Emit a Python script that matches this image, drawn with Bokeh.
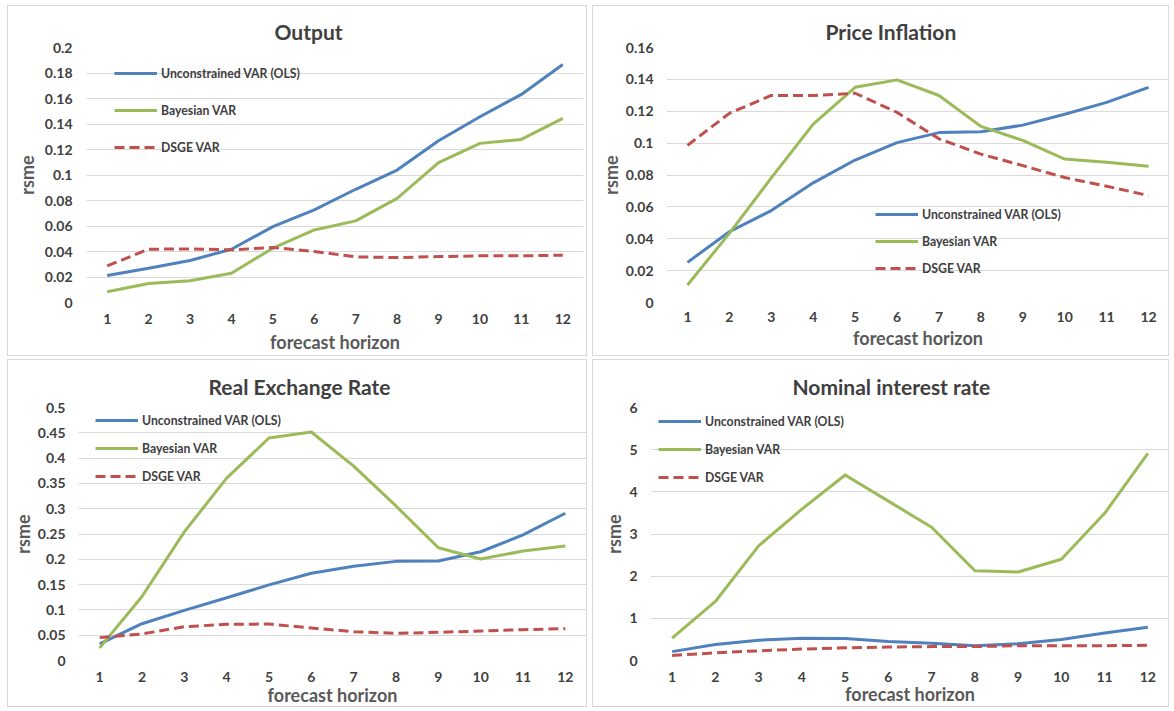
from bokeh.plotting import figure
from bokeh.models import Range1d, FixedTicker, Legend, LegendItem, PrintfTickFormatter
from bokeh.layouts import row, column
from bokeh.core.properties import value
from bokeh.embed import file_html
from bokeh.resources import INLINE

# ---------------- data ----------------
horizon = [1, 2, 3, 4, 5, 6, 7, 8, 9, 10, 11, 12]

series_names = ["Unconstrained VAR (OLS)", "Bayesian VAR", "DSGE VAR"]

# Output
output_ols = [0.0211, 0.0269, 0.0329, 0.0418, 0.0595, 0.0726, 0.0888, 0.1039, 0.1269, 0.1457, 0.1632, 0.1867]
output_bvar = [0.0084, 0.0149, 0.0170, 0.0230, 0.0426, 0.0569, 0.0640, 0.0817, 0.1097, 0.1248, 0.1279, 0.1444]
output_dsge = [0.0287, 0.0418, 0.0420, 0.0413, 0.0431, 0.0400, 0.0358, 0.0352, 0.0360, 0.0366, 0.0366, 0.0371]
output_yticks = [0, 0.02, 0.04, 0.06, 0.08, 0.1, 0.12, 0.14, 0.16, 0.18, 0.2]
output_ylabels = ["0", "0.02", "0.04", "0.06", "0.08", "0.1", "0.12", "0.14", "0.16", "0.18", "0.2"]

# Price Inflation
infl_ols = [0.0252, 0.0444, 0.0577, 0.0751, 0.0894, 0.1003, 0.1066, 0.1072, 0.1113, 0.1181, 0.1256, 0.1350]
infl_bvar = [0.0110, 0.0434, 0.0782, 0.1119, 0.1350, 0.1397, 0.1299, 0.1105, 0.1017, 0.0900, 0.0880, 0.0855]
infl_dsge = [0.0986, 0.1187, 0.1299, 0.1299, 0.1313, 0.1193, 0.1027, 0.0931, 0.0859, 0.0784, 0.0730, 0.0671]
infl_yticks = [0, 0.02, 0.04, 0.06, 0.08, 0.1, 0.12, 0.14, 0.16]
infl_ylabels = ["0", "0.02", "0.04", "0.06", "0.08", "0.1", "0.12", "0.14", "0.16"]

# Real Exchange Rate
rer_ols = [0.0328, 0.0727, 0.0990, 0.1239, 0.1494, 0.1723, 0.1861, 0.1959, 0.1966, 0.2149, 0.2484, 0.2910]
rer_bvar = [0.0249, 0.1265, 0.2543, 0.3604, 0.4397, 0.4515, 0.3840, 0.3054, 0.2228, 0.2005, 0.2163, 0.2261]
rer_dsge = [0.0452, 0.0524, 0.0668, 0.0714, 0.0721, 0.0642, 0.0570, 0.0537, 0.0557, 0.0583, 0.0610, 0.0629]
rer_yticks = [0, 0.05, 0.1, 0.15, 0.2, 0.25, 0.3, 0.35, 0.4, 0.45, 0.5]
rer_ylabels = ["0", "0.05", "0.1", "0.15", "0.2", "0.25", "0.3", "0.35", "0.4", "0.45", "0.5"]

# Nominal interest rate
rate_ols = [0.21, 0.38, 0.48, 0.53, 0.52, 0.45, 0.41, 0.35, 0.40, 0.50, 0.65, 0.79]
rate_bvar = [0.53, 1.40, 2.72, 3.59, 4.40, 3.78, 3.16, 2.13, 2.10, 2.40, 3.49, 4.91]
rate_dsge = [0.12, 0.18, 0.23, 0.27, 0.30, 0.32, 0.33, 0.33, 0.35, 0.35, 0.35, 0.36]
rate_yticks = [0, 1, 2, 3, 4, 5, 6]
rate_ylabels = ["0", "1", "2", "3", "4", "5", "6"]

x_title = "forecast horizon"
y_title = "rsme"

# ---------------- styling ----------------
COLORS = ["#4F81BD", "#9BBB59", "#C0504D"]
DASHES = ["solid", "solid", "10 5"]
FONT = "Lato"


def make_panel(title, series, yticks, ylabels, cfg):
    p = figure(width=cfg["w"], height=cfg["h"], output_backend="svg", toolbar_location=None,
               x_range=Range1d(0.5, 12.5), y_range=Range1d(yticks[0], yticks[-1]),
               min_border_left=cfg["bl"], min_border_right=cfg["br"],
               min_border_top=cfg["bt"], min_border_bottom=cfg["bb"],
               title=title, styles={"border": "1px solid #d9d9d9"})
    p.outline_line_color = None
    p.background_fill_color = "white"
    p.border_fill_color = "white"

    p.title.align = "left"
    p.title.offset = cfg["toff"]
    p.title.standoff = cfg["tst"]
    p.title.text_font = FONT
    p.title.text_font_size = "21px"
    p.title.text_font_style = "bold"
    p.title.text_color = "#404040"

    p.xaxis.ticker = FixedTicker(ticks=horizon)
    p.yaxis.ticker = FixedTicker(ticks=yticks)
    p.yaxis.formatter = PrintfTickFormatter(format="%g")
    p.yaxis.major_label_overrides = {t: l for t, l in zip(yticks, ylabels)}
    p.xaxis.axis_label = x_title
    p.yaxis.axis_label = y_title

    for ax in (p.xaxis[0], p.yaxis[0]):
        ax.axis_line_color = None
        ax.major_tick_line_color = None
        ax.minor_tick_line_color = None
        ax.major_tick_out = 0
        ax.major_tick_in = 0
        ax.major_label_text_font = FONT
        ax.major_label_text_font_size = "14px"
        ax.major_label_text_font_style = "bold"
        ax.major_label_text_color = "#404040"
        ax.axis_label_text_font = FONT
        ax.axis_label_text_font_size = "18px"
        ax.axis_label_text_font_style = "bold"
        ax.axis_label_text_color = "#595959"
    p.yaxis.major_label_standoff = cfg["ymls"]
    p.yaxis.axis_label_standoff = cfg["yals"]
    p.xaxis.major_label_standoff = cfg["xmls"]
    p.xaxis.axis_label_standoff = cfg["xals"]

    p.xgrid.visible = False
    p.ygrid.grid_line_color = "#d9d9d9"
    p.ygrid.grid_line_width = 1

    items = []
    for name, ys, col, dash in zip(series_names, series, COLORS, DASHES):
        r = p.line(horizon, ys, line_color=col, line_width=3, line_dash=dash, line_join="round")
        items.append(LegendItem(label=value(name), renderers=[r]))

    leg = Legend(items=items, location=cfg["leg"], orientation="vertical",
                 glyph_width=43, glyph_height=20, label_height=20, label_standoff=4,
                 spacing=cfg["lsp"], padding=0, margin=0,
                 border_line_color=None, background_fill_alpha=0,
                 label_text_font=FONT, label_text_font_size="12.25px",
                 label_text_font_style="bold", label_text_color="#404040")
    p.add_layout(leg)
    return p


cfg1 = dict(w=580, h=351, bl=78, br=5, bt=41, bb=55, toff=188, tst=7,
            ymls=14, yals=4, xmls=11, xals=4, leg=(28, 145), lsp=17)
cfg2 = dict(w=577, h=351, bl=73, br=1, bt=40, bb=51, toff=159, tst=7,
            ymls=13, yals=1, xmls=9, xals=2, leg=(209, 24), lsp=7)
cfg3 = dict(w=580, h=348, bl=70, br=2, bt=47, bb=48, toff=130, tst=18,
            ymls=13, yals=1, xmls=11, xals=-1, leg=(17, 174), lsp=8)
cfg4 = dict(w=577, h=348, bl=57, br=1, bt=45, bb=48, toff=142, tst=17,
            ymls=13, yals=1, xmls=11, xals=-2, leg=(8, 173), lsp=8)

p1 = make_panel("Output", [output_ols, output_bvar, output_dsge], output_yticks, output_ylabels, cfg1)
p2 = make_panel("Price Inflation", [infl_ols, infl_bvar, infl_dsge], infl_yticks, infl_ylabels, cfg2)
p3 = make_panel("Real Exchange Rate", [rer_ols, rer_bvar, rer_dsge], rer_yticks, rer_ylabels, cfg3)
p4 = make_panel("Nominal interest rate", [rate_ols, rate_bvar, rate_dsge], rate_yticks, rate_ylabels, cfg4)

layout = column(row(p1, p2, spacing=5), row(p3, p4, spacing=5), spacing=3, margin=(5, 0, 0, 7))

open("out.html", "w").write(file_html(layout, INLINE))
